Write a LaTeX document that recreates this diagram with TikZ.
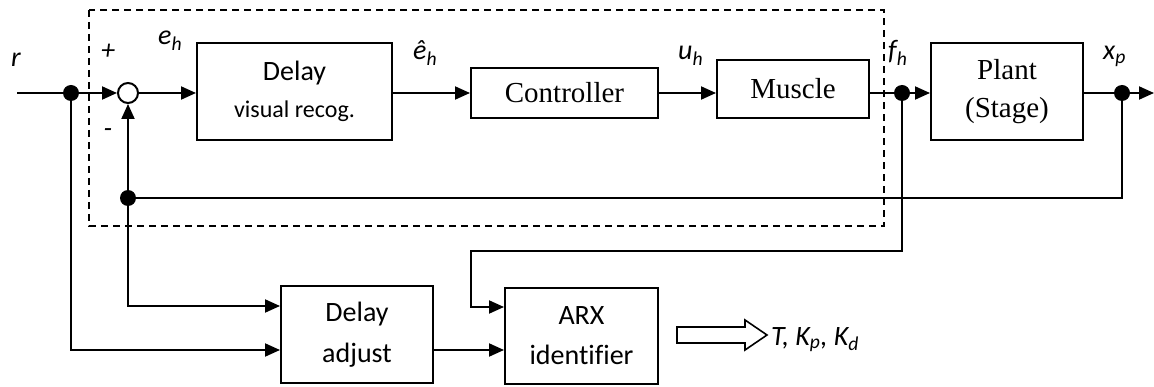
\documentclass[tikz,border=0pt]{standalone}
\usepackage{fontspec}
\setmainfont{Carlito}[Ligatures={NoCommon}]
\newfontfamily\tms{Liberation Serif}
\usetikzlibrary{arrows.meta}
\begin{document}
\begin{tikzpicture}[x=1pt,y=-1pt,
  box/.style={draw, line width=2pt, inner sep=0pt, align=center},
  conn/.style={line width=2pt},
  arr/.style={conn, -{Triangle[length=15pt,width=13pt]}},
  jdot/.style={circle, fill, inner sep=0pt, minimum size=16pt},
  lbl/.style={font=\fontsize{28}{34}\selectfont\itshape, inner sep=0pt, anchor=base west},
  sgn/.style={font=\fontsize{28}{34}\selectfont\itshape, inner sep=0pt},
]
\useasboundingbox (0,0) rectangle (1154,387);
% dashed group
\draw[line width=1.6pt, dash pattern=on 7pt off 5pt] (89,10) rectangle (884,226);
% blocks
\node[box, minimum width=195, minimum height=97, font=\fontsize{28}{37}\selectfont] (delay) at (294.5,91.5)
  {Delay\\{\fontsize{24}{37}\selectfont visual recog.}};
\node[box, minimum width=187, minimum height=50, font=\fontsize{29}{36}\selectfont\tms] (ctrl) at (564.5,93) {Controller};
\node[box, minimum width=152, minimum height=58, font=\fontsize{29}{36}\selectfont\tms] (musc) at (793,89) {Muscle};
\node[box, minimum width=152, minimum height=97, font=\fontsize{29}{38}\selectfont\tms] (plant) at (1007,91.5) {Plant\\(Stage)};
\node[box, minimum width=152, minimum height=97, font=\fontsize{28}{41}\selectfont] (dadj) at (357,334.5) {Delay\\adjust};
\node[box, minimum width=153, minimum height=96, font=\fontsize{28}{40}\selectfont] (arx) at (581.5,336) {ARX\\identifier};
% junctions
\node[jdot] (rdot) at (71,93) {};
\node[jdot] (fbdot) at (128,198) {};
\node[jdot] (fdot) at (902,93) {};
\node[jdot] (xdot) at (1122,93) {};
\coordinate (rin) at (17,93);
\coordinate (xout) at (1154,93);
\coordinate (turn) at (471,251);
\coordinate (din1) at (0,306);
\coordinate (din2) at (0,350);
\coordinate (ain1) at (0,307);
% connectors
\draw[conn] (rin) -- (rdot);
\draw[conn] (xdot) |- (fbdot);
\node[circle, draw, fill=white, line width=2pt, minimum size=20pt, inner sep=0pt] (sum) at (128,93) {};
\draw[arr] (rdot) -- (sum);
\draw[arr] (fbdot) -- (sum);
\draw[arr] (sum) -- (delay.west |- sum);
\draw[arr] (delay.east |- ctrl) -- (ctrl.west);
\draw[arr] (ctrl.east) -- (musc.west |- ctrl);
\draw[conn] (musc.east |- fdot) -- (fdot);
\draw[arr] (fdot) -- (plant.west |- fdot);
\draw[conn] (plant.east |- xdot) -- (xdot);
\draw[arr] (xdot) -- (xout);
\draw[arr] (fbdot) |- (dadj.west |- din1);
\draw[arr] (rdot) |- (dadj.west |- din2);
\draw[arr] (dadj.east |- din2) -- (arx.west |- din2);
\draw[arr] (fdot) |- (turn) |- (arx.west |- ain1);
% hollow arrow
\draw[line width=1.6pt, fill=white, line join=miter] (677,327) -- (745,327) -- (745,320) -- (767,335) -- (745,350) -- (745,343) -- (677,343) -- cycle;
% labels
\node[lbl] (lr) at (11,67) {r};
\node[lbl] (leh) at (158,45) {e\textsubscript{h}};
\node[lbl] (lehat) at (413,60) {ê\textsubscript{h}};
\node[lbl] (luh) at (678,60) {u\textsubscript{h}};
\node[lbl] (lfh) at (888,60) {f\textsubscript{h}};
\node[lbl] (lxp) at (1103,60) {x\textsubscript{p}};
\node[sgn] (lplus) at (108,52) {+};
\node[sgn] (lminus) at (108,133) {-};
\node[lbl] (lpar) at (771,345) {T, K\textsubscript{p}, K\textsubscript{d}};
\end{tikzpicture}
\end{document}
